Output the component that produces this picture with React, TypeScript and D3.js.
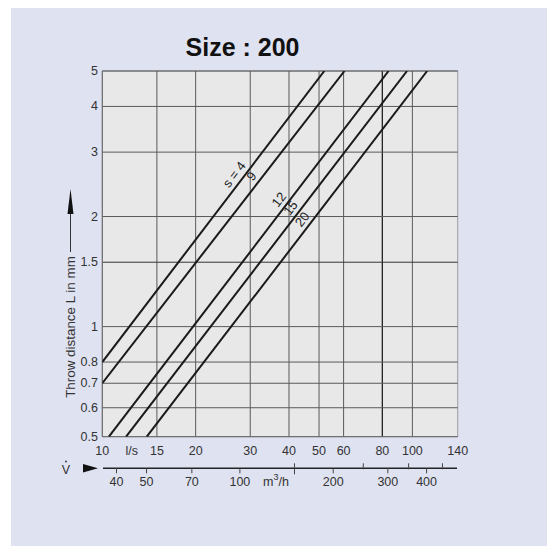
import React from "react";
import * as d3 from "d3";

// ---- data ----
const xTicksLs = [10, 15, 20, 30, 40, 50, 60, 80, 100, 140];
const xGridLs = [15, 20, 30, 40, 50, 60, 80, 100];
const yTicks = [0.5, 0.6, 0.7, 0.8, 1, 1.5, 2, 3, 4, 5];
const yGrid = [0.6, 0.7, 0.8, 1, 1.5, 2, 3, 4];
const m3hLabels = [40, 50, 70, 100, 200, 300, 400];
const m3hMinor = [150, 250, 350, 450];

const seriesNames = ["s = 4", "9", "12", "15", "20"];
const vStart = [10, 10, 10.5, 11.93, 13.91];
const lStart = [0.8, 0.7, 0.5, 0.5, 0.5];
const vEnd = [52, 60.4, 83.8, 96.1, 111.6];
const lEnd = [5, 5, 5, 5, 5];
const labelAtL = [2.52, 2.49, 2.15, 2.04, 1.9];

const W = 547;
const H = 546;
const M = { left: 102.3, right: 457.7, top: 71, bottom: 436.7 };

export default function App() {
  const x = d3.scaleLog().domain([10, 140]).range([M.left, M.right]);
  const y = d3.scaleLog().domain([0.5, 5]).range([M.bottom, M.top]);
  const line = d3
    .line<[number, number]>()
    .x((d) => x(d[0]))
    .y((d) => y(d[1]));
  const font = "Liberation Sans, Arial, sans-serif";
  const txt = "#333";
  const axisY = 468.3;

  return (
    <svg
      width={W}
      height={H}
      style={{ position: "absolute", left: 0, top: 0 }}
      fontFamily={font}
    >
      <rect x={0} y={0} width={W} height={H} fill="#ffffff" />
      <rect x={11} y={8} width={W - 11} height={H - 8} fill="#dfe2f1" />
      <text
        x={242.5}
        y={56}
        textAnchor="middle"
        fontSize={25}
        fontWeight="bold"
        fill="#111"
      >
        Size : 200
      </text>
      <defs>
        <clipPath id="plotclip">
          <rect
            x={M.left}
            y={M.top}
            width={M.right - M.left}
            height={M.bottom - M.top}
          />
        </clipPath>
      </defs>
      <rect
        x={M.left}
        y={M.top}
        width={M.right - M.left}
        height={M.bottom - M.top}
        fill="#e8e8e8"
        stroke="#9a9ca4"
        strokeWidth={1}
      />
      {xGridLs.map((v) => (
        <line
          key={"xg" + v}
          x1={x(v)}
          x2={x(v)}
          y1={M.top}
          y2={M.bottom}
          stroke={v === 80 ? "#222" : "#5a5a5a"}
          strokeWidth={v === 80 ? 1.3 : 1}
        />
      ))}
      {yGrid.map((v) => (
        <line
          key={"yg" + v}
          x1={M.left}
          x2={M.right}
          y1={y(v)}
          y2={y(v)}
          stroke={v === 1.5 ? "#333" : "#5a5a5a"}
          strokeWidth={1}
        />
      ))}
      <line x1={M.left} x2={M.right} y1={M.top} y2={M.top} stroke="#555" />
      <line x1={M.left} x2={M.left} y1={M.top} y2={M.bottom} stroke="#666" />
      <line x1={M.left} x2={M.right} y1={M.bottom} y2={M.bottom} stroke="#666" />
      <g clipPath="url(#plotclip)">
        {seriesNames.map((s, i) => (
          <path
            key={"s" + s}
            d={
              line([
                [vStart[i], lStart[i]],
                [vEnd[i], lEnd[i]],
              ]) || ""
            }
            fill="none"
            stroke="#1a1a1a"
            strokeWidth={2}
          />
        ))}
      </g>
      {seriesNames.map((s, i) => {
        const x0 = x(vStart[i]);
        const y0 = y(lStart[i]);
        const x1 = x(vEnd[i]);
        const y1 = y(lEnd[i]);
        const ang = Math.atan2(y1 - y0, x1 - x0);
        const ly = y(labelAtL[i]);
        const lx = x0 + ((ly - y0) / (y1 - y0)) * (x1 - x0);
        const off = 9;
        const nx = Math.sin(ang) * off;
        const ny = -Math.cos(ang) * off;
        const cx = lx + nx;
        const cy = ly + ny;
        return (
          <text
            key={"lab" + s}
            x={cx}
            y={cy}
            textAnchor="middle"
            dominantBaseline="central"
            fontSize={13}
            fill="#222"
            transform={`rotate(${(ang * 180) / Math.PI},${cx},${cy})`}
          >
            {s}
          </text>
        );
      })}
      {yTicks.map((v) => (
        <text
          key={"yt" + v}
          x={98}
          y={y(v)}
          textAnchor="end"
          dominantBaseline="central"
          fontSize={12.5}
          fill={txt}
        >
          {v}
        </text>
      ))}
      {xTicksLs.map((v) => (
        <text
          key={"xt" + v}
          x={x(v)}
          y={451}
          textAnchor="middle"
          dominantBaseline="central"
          fontSize={12.5}
          fill={txt}
        >
          {v}
        </text>
      ))}
      <text
        x={131.7}
        y={451}
        textAnchor="middle"
        dominantBaseline="central"
        fontSize={12.5}
        fill={txt}
      >
        l/s
      </text>
      <text
        x={70}
        y={327}
        textAnchor="middle"
        dominantBaseline="central"
        fontSize={13.4}
        fill={txt}
        transform="rotate(-90,70,327)"
      >
        Throw distance L in mm
      </text>
      <line x1={70.5} x2={70.5} y1={212} y2={252} stroke="#333" strokeWidth={1} />
      <path d="M70.5,189 L67.5,214 L73.5,214 Z" fill="#111" />
      {/* secondary axis m3/h */}
      <text
        x={66}
        y={470}
        textAnchor="middle"
        dominantBaseline="central"
        fontSize={12.5}
        fill={txt}
      >
        V
      </text>
      <circle cx={66} cy={461.5} r={0.9} fill={txt} />
      <path d="M83,464 L98,468.3 L83,472.6 Z" fill="#111" />
      <line
        x1={103}
        x2={457}
        y1={axisY}
        y2={axisY}
        stroke="#222"
        strokeWidth={1.6}
      />
      {m3hLabels.map((v) => (
        <g key={"m" + v}>
          <line
            x1={x(v / 3.6)}
            x2={x(v / 3.6)}
            y1={axisY}
            y2={axisY + 5}
            stroke="#444"
          />
          <text
            x={x(v / 3.6)}
            y={482}
            textAnchor="middle"
            dominantBaseline="central"
            fontSize={12.5}
            fill={txt}
          >
            {v}
          </text>
        </g>
      ))}
      {m3hMinor.map((v) => (
        <line
          key={"mm" + v}
          x1={x(v / 3.6)}
          x2={x(v / 3.6)}
          y1={axisY - 5}
          y2={axisY + (v === 150 ? 6 : 1)}
          stroke="#444"
        />
      ))}
      <text
        x={263}
        y={482}
        textAnchor="start"
        dominantBaseline="central"
        fontSize={12.5}
        fill={txt}
      >
        m<tspan dy={-5} fontSize={9}>3</tspan>
        <tspan dy={5}>/h</tspan>
      </text>
    </svg>
  );
}
